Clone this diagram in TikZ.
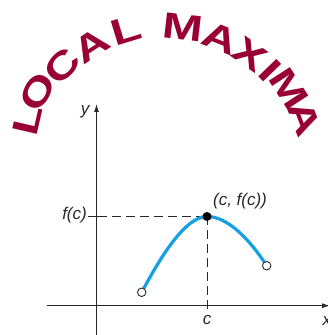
\documentclass[tikz,border=0pt]{standalone}
\usepackage{fontspec}
\setmainfont{Liberation Sans}
\usetikzlibrary{arrows.meta}
\definecolor{titlered}{RGB}{153,0,51}
\definecolor{curveblue}{RGB}{20,160,225}
\definecolor{axisgray}{RGB}{40,40,40}
\tikzset{
  letter/.style={inner sep=0pt, text=titlered, font=\bfseries\fontsize{36.5}{36.5}\selectfont},
  axisline/.style={draw=axisgray, line width=0.9pt, -{Latex[length=8pt,width=5pt]}},
  tickline/.style={draw=axisgray, line width=0.9pt},
  guide/.style={draw=axisgray, line width=0.9pt, dash pattern=on 9pt off 5pt},
  fn/.style={draw=curveblue, line width=3.2pt},
  openpt/.style={circle, draw=axisgray, fill=white, line width=0.9pt, inner sep=0pt, minimum size=8.5pt},
  solidpt/.style={circle, fill=black, inner sep=0pt, minimum size=9pt},
  lab/.style={inner sep=0pt, font=\itshape\fontsize{17}{17}\selectfont, text=axisgray}
}
\newcommand{\wideletter}[1]{\scalebox{1.33}[1]{#1}}
\begin{document}
\begin{tikzpicture}[x=1pt,y=1pt]
\useasboundingbox (0,0) rectangle (328,335);
% title on an arch
\begin{scope}[shift={(166.4,158.9)}]
  \node[letter, rotate=77]   (t1)  at (158:150)   {\wideletter{L}};
  \node[letter, rotate=61]   (t2)  at (147:154)   {\wideletter{O}};
  \node[letter, rotate=47]   (t3)  at (133.5:152) {\wideletter{C}};
  \node[letter, rotate=33]   (t4)  at (120:151)   {\wideletter{A}};
  \node[letter, rotate=17]   (t5)  at (105.5:151) {\wideletter{L}};
  \node[letter, rotate=-6.5] (t6)  at (83.5:150)  {\wideletter{M}};
  \node[letter, rotate=-21.5](t7)  at (68.5:148)  {\wideletter{A}};
  \node[letter, rotate=-35]  (t8)  at (55.5:147)  {\wideletter{X}};
  \node[letter, rotate=-46]  (t9)  at (45.5:148)  {\wideletter{I}};
  \node[letter, rotate=-57]  (t10) at (35.5:151)  {\wideletter{M}};
  \node[letter, rotate=-69]  (t11) at (22.7:150)  {\wideletter{A}};
\end{scope}
% axes
\coordinate (xs) at (47,29.3);
\coordinate (xe) at (330,29.3);
\coordinate (ys) at (96.5,0);
\coordinate (ye) at (96.5,231);
\draw[axisline] (xs) -- (xe);
\draw[axisline] (ys) -- (ye);
% key points
\coordinate (P) at (207,118.5);
\coordinate (A) at (141.7,42.7);
\coordinate (B) at (266.7,69.3);
\coordinate (fcl) at (88.3,118.5);
\coordinate (fcr) at (98.3,118.5);
\coordinate (cx) at (207,29.3);
\coordinate (cxb) at (207,25.5);
% guides and ticks
\draw[tickline] (fcl) -- (fcr);
\draw[guide] (fcr) -- (P);
\draw[guide] (P) -- (cx);
\draw[tickline] (cx) -- (cxb);
% the function
\draw[fn] (A) .. controls (160,77) and (185,118.5) .. (P)
              .. controls (228,118.5) and (250,95) .. (B);
\node[openpt]  (a)   at (A) {};
\node[openpt]  (b)   at (B) {};
\node[solidpt] (max) at (P) {};
% labels
\node[lab] (ylab)  at (85,223)   {y};
\node[lab, anchor=west] (xlab) at (322.5,14) {x};
\node[lab] (clab)  at (207,15)   {c};
\node[lab, anchor=east] (fclab) at (87,119.5) {f(c)};
\node[lab] (ptlab) at (240,134)  {(c, f(c))};
\end{tikzpicture}
\end{document}
